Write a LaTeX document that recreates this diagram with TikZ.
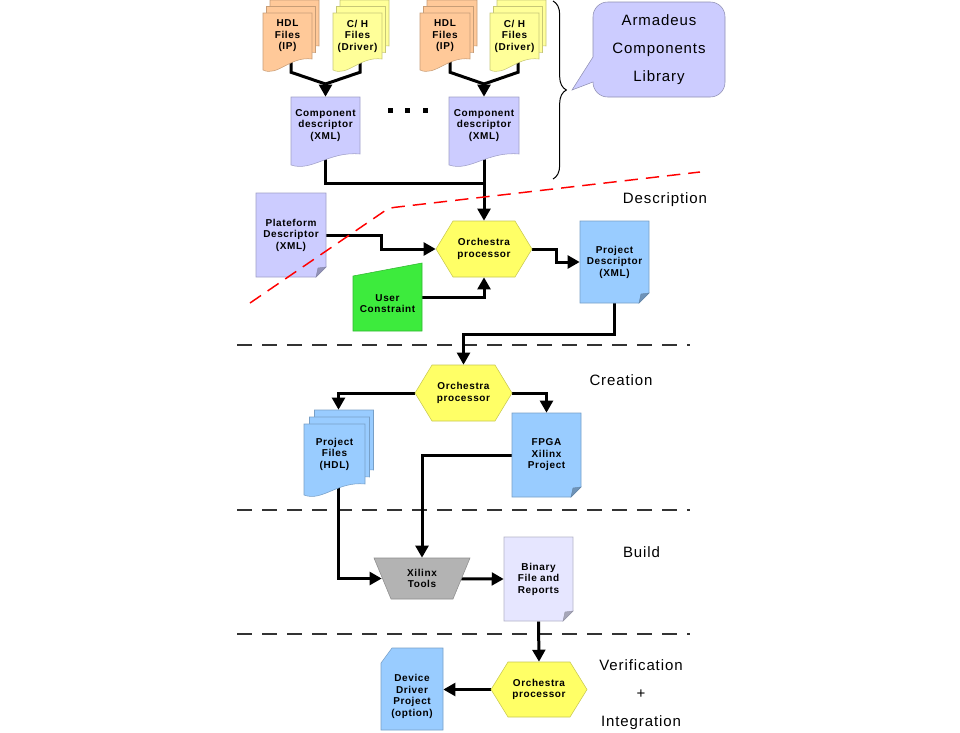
\documentclass[tikz,border=0pt]{standalone}
\usepackage{fontspec}
\setmainfont{Liberation Sans}
\newfontfamily\lblfam[LetterSpace=6]{Liberation Sans}
\newfontfamily\bigfam[LetterSpace=6]{Liberation Sans}
\usetikzlibrary{arrows.meta,calc,decorations.pathreplacing}
\pgfdeclarelayer{connlayer}
\pgfdeclarelayer{shapelayer}
\pgfsetlayers{connlayer,shapelayer,main}
\newcommand\lblfont{\lblfam\bfseries\fontsize{7.5}{8.6}\selectfont}
\newcommand\ttlfont{\bigfam\fontsize{11.25}{21}\selectfont}
\definecolor{cOrange}{RGB}{255,201,153}
\definecolor{cYelLt}{RGB}{255,255,153}
\definecolor{cLav}{RGB}{204,204,255}
\definecolor{cHex}{RGB}{255,255,102}
\definecolor{cBlue}{RGB}{153,204,255}
\definecolor{cGreen}{RGB}{61,235,61}
\definecolor{cGray}{RGB}{179,179,179}
\definecolor{cBin}{RGB}{230,230,255}
\definecolor{cDash}{RGB}{51,51,51}
\tikzset{
  lbl/.style={font=\lblfont, align=center, inner sep=0pt},
  conn/.style={line width=2.25pt, line join=miter},
  arr/.style={conn, -{Triangle[length=9pt,width=9.5pt]}},
  sep/.style={cDash, line width=1.1pt, dash pattern=on 11.25pt off 7.5pt},
  ttl/.style={font=\ttlfont, align=center, inner sep=0pt}
}
% document sheet with wavy bottom: x y w h fill
\newcommand\docsheet[5]{\filldraw[fill=#5, draw=#5!78!black, line width=0.4pt] (#1,#2) -- ({#1+#3},#2) -- ({#1+#3},{#2+#4}) .. controls ({#1+0.55*#3},{#2+#4-3}) and ({#1+0.3*#3},{#2+#4+18}) .. (#1,{#2+#4+11}) -- cycle;}
% sheet with folded bottom-right corner
\newcommand\foldsheet[5]{\filldraw[fill=#5, draw=#5!78!black, line width=0.4pt] (#1,#2) -- ({#1+#3},#2) -- ({#1+#3},{#2+#4-10}) -- ({#1+#3-10},{#2+#4}) -- (#1,{#2+#4}) -- cycle;
 \filldraw[fill=#5!72!black, draw=#5!65!black, line width=0.3pt] ({#1+#3},{#2+#4-10}) -- ({#1+#3-10},{#2+#4}) -- ({#1+#3-8},{#2+#4-9}) -- cycle;}
% hexagon: x y w h inset
\newcommand\hexa[5]{\filldraw[fill=cHex, draw=cHex!78!black, line width=0.4pt] (#1,{#2+#4/2}) -- ({#1+#5},#2) -- ({#1+#3-#5},#2) -- ({#1+#3},{#2+#4/2}) -- ({#1+#3-#5},{#2+#4}) -- ({#1+#5},{#2+#4}) -- cycle;}
\begin{document}
\begin{tikzpicture}[x=0.75pt,y=-0.75pt]
\useasboundingbox (0,0) rectangle (960,732);

% ---------- nodes (text) ----------
\node[lbl,minimum width=49*0.75pt,minimum height=46*0.75pt] (hdl1) at (287.5,36) {HDL\\Files\\(IP)};
\node[lbl,minimum width=49*0.75pt,minimum height=46*0.75pt] (ch1) at (357.5,36) {C/ H\\Files\\(Driver)};
\node[lbl,minimum width=50*0.75pt,minimum height=46*0.75pt] (hdl2) at (445,36) {HDL\\Files\\(IP)};
\node[lbl,minimum width=49*0.75pt,minimum height=46*0.75pt] (ch2) at (514.5,36) {C/ H\\Files\\(Driver)};
\node[lbl,minimum width=69*0.75pt,minimum height=57*0.75pt] (cd1) at (325.5,125.5) {Component\\descriptor\\(XML)};
\node[lbl,minimum width=70*0.75pt,minimum height=57*0.75pt] (cd2) at (484,125.5) {Component\\descriptor\\(XML)};
\node[lbl,minimum width=70*0.75pt,minimum height=84*0.75pt] (pf) at (291,235) {Plateform\\Descriptor\\(XML)};
\node[lbl,minimum width=96*0.75pt,minimum height=56*0.75pt] (hx1) at (484,249) {Orchestra\\processor};
\node[lbl,minimum width=69*0.75pt,minimum height=82*0.75pt] (pd) at (614.5,262) {Project\\Descriptor\\(XML)};
\node[lbl,minimum width=69*0.75pt,minimum height=55*0.75pt] (uc) at (387.5,303.5) {User\\Constraint};
\node[lbl,minimum width=97*0.75pt,minimum height=56*0.75pt] (hx2) at (463.5,393) {Orchestra\\processor};
\node[lbl,minimum width=61*0.75pt,minimum height=60*0.75pt] (pfl) at (334.5,454) {Project\\Files\\(HDL)};
\node[lbl,minimum width=69*0.75pt,minimum height=84*0.75pt] (fpga) at (546.5,455) {FPGA\\Xilinx\\Project};
\node[lbl,minimum width=96*0.75pt,minimum height=41*0.75pt] (xt) at (422,578.5) {Xilinx\\Tools};
\node[lbl,minimum width=69*0.75pt,minimum height=84*0.75pt] (bin) at (538.5,579) {Binary\\File and\\Reports};
\node[lbl,minimum width=96*0.75pt,minimum height=55*0.75pt] (hx3) at (539,689.5) {Orchestra\\processor};
\node[lbl,minimum width=62*0.75pt,minimum height=67*0.75pt] (dd) at (412,696.5) {Device\\Driver\\Project\\(option)};

\node[ttl] (lib) at (659,50) {Armadeus\\Components\\Library};
\node[ttl] (tdesc) at (665,200) {Description};
\node[ttl] (tcrea) at (621,380) {Creation};
\node[ttl] (tbuild) at (641.5,552) {Build};
\node[ttl] (tver) at (641,695) {Verification\\+\\Integration};

% ---------- shapes ----------
\begin{pgfonlayer}{shapelayer}
\docsheet{270}{0}{49}{46}{cOrange}
\docsheet{266.5}{6.5}{49}{46}{cOrange}
\docsheet{263}{13}{49}{46}{cOrange}
\docsheet{340}{0}{49}{46}{cYelLt}
\docsheet{336.5}{6.5}{49}{46}{cYelLt}
\docsheet{333}{13}{49}{46}{cYelLt}
\docsheet{427}{0}{50}{46}{cOrange}
\docsheet{423.5}{6.5}{50}{46}{cOrange}
\docsheet{420}{13}{50}{46}{cOrange}
\docsheet{497}{0}{49}{46}{cYelLt}
\docsheet{493.5}{6.5}{49}{46}{cYelLt}
\docsheet{490}{13}{49}{46}{cYelLt}
\docsheet{291}{97}{69}{57}{cLav}
\docsheet{449}{97}{70}{57}{cLav}
\foldsheet{256}{193}{70}{84}{cLav}
\hexa{436}{221}{96}{56}{17}
\foldsheet{580}{221}{69}{82}{cBlue}
\filldraw[fill=cGreen, draw=cGreen!78!black, line width=0.4pt] (353,276) -- (422,263) -- (422,331) -- (353,331) -- cycle;
\hexa{415}{365}{97}{56}{17}
\docsheet{314.5}{410}{59}{60}{cBlue}
\docsheet{309.5}{417}{60}{60}{cBlue}
\docsheet{304}{424}{61}{60}{cBlue}
\foldsheet{512}{413}{69}{84}{cBlue}
\filldraw[fill=cGray, draw=cGray!78!black, line width=0.4pt] (374,558) -- (470,558) -- (453,599) -- (391,599) -- cycle;
\foldsheet{504}{537}{69}{84}{cBin}
\hexa{491}{662}{96}{55}{17}
\filldraw[fill=cBlue, draw=cBlue!78!black, line width=0.4pt] (392,648) -- (443,648) -- (443,730) -- (381,730) -- (381,663) -- cycle;
% speech bubble
\filldraw[fill=cLav, draw=cLav!70!black, line width=0.4pt] (593,57) [rounded corners=11pt] -- (593,2) -- (725,2) -- (725,97) -- (593,97) [sharp corners] -- (593,82) -- (572,90) -- cycle;
% brace
\draw[line width=0.75pt, decorate, decoration={brace, amplitude=10pt}] (553,1) -- (553,179);
% dots
\fill (387.5,108) rectangle ++(5,5);
\fill (405,108) rectangle ++(5,5);
\fill (423,108) rectangle ++(5,5);
% red boundary
\draw[red, line width=1.1pt, dash pattern=on 10pt off 6pt, rounded corners=4pt] (250,303) -- (389,208) -- (700,172);
\end{pgfonlayer}

% ---------- connectors ----------
\begin{pgfonlayer}{connlayer}
\draw[sep] (237,345) -- (690,345);
\draw[sep] (237,510) -- (690,510);
\draw[sep] (237,634) -- (690,634);
\coordinate (m1) at (325.5,84);
\coordinate (m2) at (484,84);
\coordinate (j1) at (484,183);
\draw[conn] ($(hdl1.south)+(3.5,0)$) -- ++(0,13) -- (m1);
\draw[conn] ($(ch1.south)+(2.5,0)$) -- ++(0,13) -- (m1);
\draw[arr] (m1) -- (cd1.north);
\draw[conn] ($(hdl2.south)+(5,0)$) -- ++(0,13) -- (m2);
\draw[conn] ($(ch2.south)+(3.5,0)$) -- ++(0,13) -- (m2);
\draw[arr] (m2) -- (cd2.north);
\draw[conn] (cd1.south) |- (j1);
\draw[arr] (cd2.south) -- (hx1.north);
\draw[arr] (pf.east) -- ++(55,0) |- (hx1.west);
\draw[arr] (hx1.east) -- ++(24,0) |- (pd.west);
\draw[arr] ($(uc.east)+(0,-6.5)$) -| (hx1.south);
\draw[arr] (pd.south) -- ++(0,31) -| (hx2.north);
\draw[arr] (hx2.west) -| ($(pfl.north)+(4,-14)$);
\draw[arr] (hx2.east) -| (fpga.north);
\draw[arr] (fpga.west) -| (xt.north);
\draw[arr] ($(pfl.south)+(4,0)$) |- ($(xt.west)+(8,0)$);
\draw[arr] (xt.center) -- (bin.west);
\draw[arr] (bin.south) -- (hx3.north);
\draw[arr] (hx3.west) -- (hx3.west -| dd.east);
\end{pgfonlayer}
\end{tikzpicture}
\end{document}
